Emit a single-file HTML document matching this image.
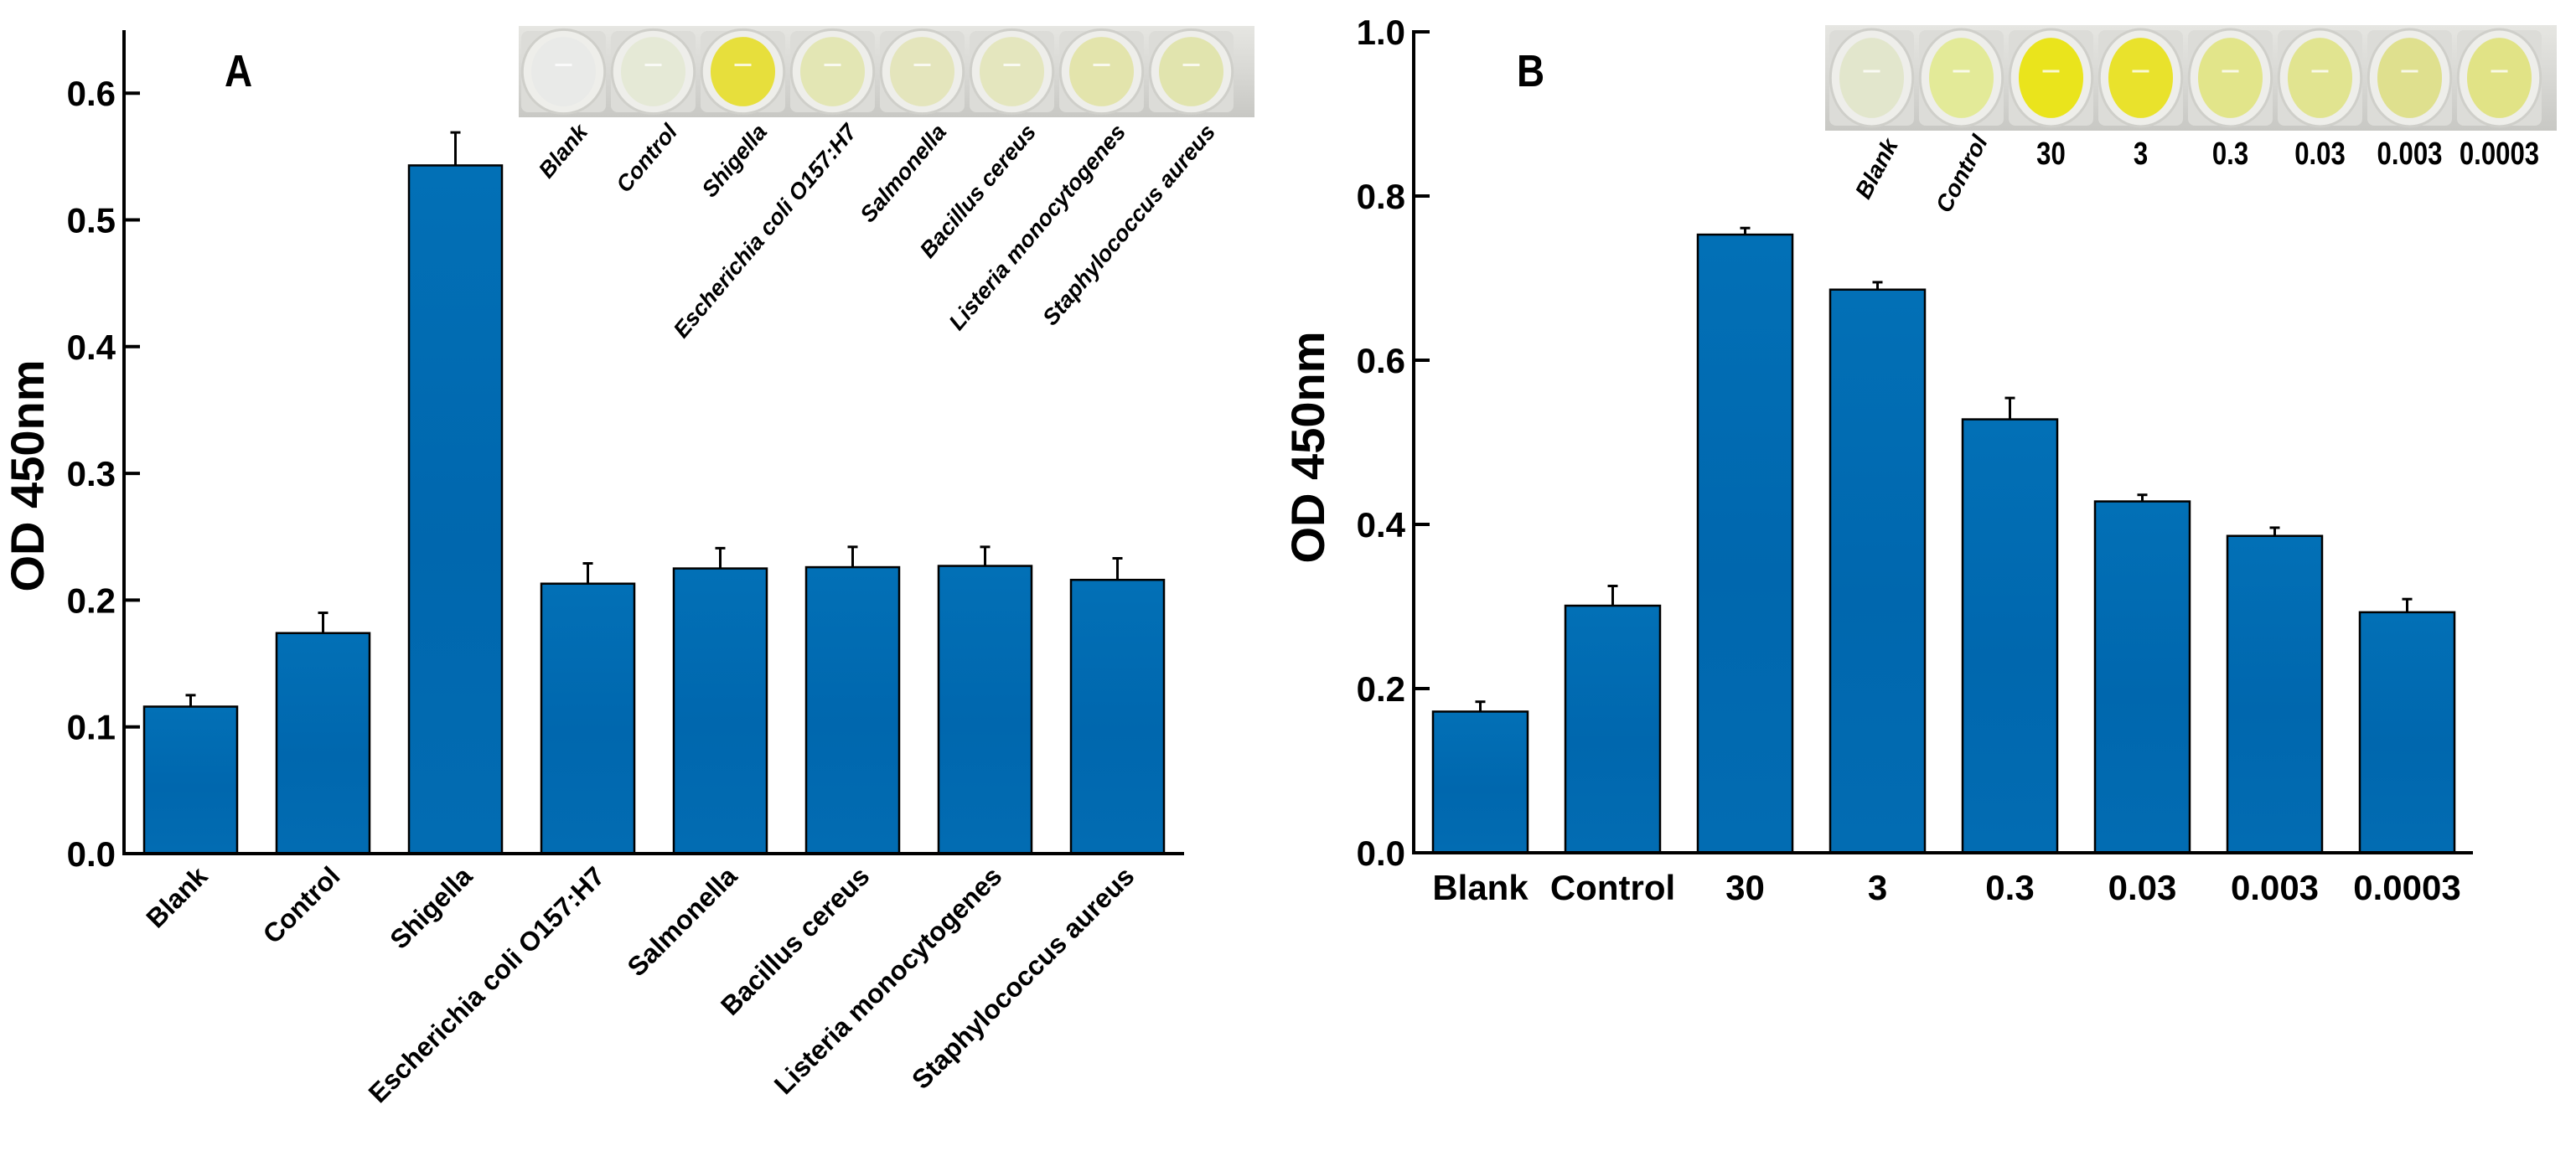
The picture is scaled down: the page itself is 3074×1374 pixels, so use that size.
<!DOCTYPE html>
<html><head><meta charset="utf-8">
<style>
html,body{margin:0;padding:0;background:#fff}
svg{display:block}
text{font-family:"Liberation Sans",Arial,sans-serif;font-weight:bold;fill:#000}
</style></head>
<body>
<svg id="chart" width="3074" height="1374" viewBox="0 0 3074 1374" xmlns="http://www.w3.org/2000/svg">
<defs>
<linearGradient id="barg" x1="0" y1="0" x2="0" y2="1">
<stop offset="0" stop-color="#0270b6"/><stop offset="0.55" stop-color="#0067ae"/><stop offset="1" stop-color="#026cb2"/>
</linearGradient>
<linearGradient id="plateg" x1="0" y1="0" x2="0" y2="1">
<stop offset="0" stop-color="#e6e6e2"/><stop offset="0.5" stop-color="#d8d8d4"/><stop offset="1" stop-color="#c8c8c4"/>
</linearGradient>
</defs>
<g id="panelA"></g>
<g id="panelB"></g>
</svg>
<script>
const catsA = ["Blank","Control","Shigella","Escherichia coli O157:H7","Salmonella","Bacillus cereus","Listeria monocytogenes","Staphylococcus aureus"];
const valsA = [0.116,0.174,0.543,0.213,0.225,0.226,0.227,0.216];
const errA  = [0.009,0.016,0.026,0.016,0.016,0.016,0.015,0.017];
const ticksA = [0.0,0.1,0.2,0.3,0.4,0.5,0.6];
const wellsA = ["#e9eae8","#e5e9d6","#e7df3c","#e3e6b4","#e4e5bc","#e4e6be","#e3e4ac","#e1e4ae"];

const catsB = ["Blank","Control","30","3","0.3","0.03","0.003","0.0003"];
const valsB = [0.172,0.301,0.753,0.686,0.528,0.428,0.386,0.293];
const errB  = [0.012,0.024,0.008,0.009,0.026,0.008,0.010,0.016];
const ticksB = [0.0,0.2,0.4,0.6,0.8,1.0];
const wellsB = ["#e2e6cc","#e3ea98","#eae41c","#e9e22c","#e2e58a","#e1e490","#dfe08e","#e1e386"];

const NS="http://www.w3.org/2000/svg";
function mk(tag,attrs,parent,txt){const e=document.createElementNS(NS,tag);for(const k in attrs)e.setAttribute(k,attrs[k]);if(txt!==undefined)e.textContent=txt;parent.appendChild(e);return e;}

function panel(g,cfg){
  const y=v=>cfg.y0-v*cfg.perUnit;
  const x=i=>cfg.firstLeft+i*cfg.pitch;
  cfg.vals.forEach((v,i)=>{
    const cx=x(i)+cfg.bw/2;
    const eb=mk('line',{x1:cx,x2:cx,y1:y(v),y2:y(v+cfg.err[i]),stroke:'#000','stroke-width':3},g);
    
    
    const cap=mk('line',{x1:cx-6,x2:cx+6,y1:y(v+cfg.err[i]),y2:y(v+cfg.err[i]),stroke:'#000','stroke-width':3},g);
    
    
    const r=mk('rect',{x:x(i),y:y(v),width:cfg.bw,height:cfg.y0-y(v),fill:'url(#barg)',stroke:'#000','stroke-width':2.5},g);
    
    
  });
  const ya=mk('line',{x1:cfg.ax,x2:cfg.ax,y1:cfg.axTop,y2:cfg.y0+2,stroke:'#000','stroke-width':4},g);
  
  
  const xa=mk('line',{x1:cfg.ax-2,x2:cfg.axRight,y1:cfg.y0,y2:cfg.y0,stroke:'#000','stroke-width':4},g);
  
  
  cfg.ticks.forEach(t=>{
    const tl=mk('line',{x1:cfg.ax,x2:cfg.ax+19,y1:y(t),y2:y(t),stroke:'#000','stroke-width':4},g);
    
    
    const tt=mk('text',{x:cfg.ax-10,y:y(t)+15,'text-anchor':'end','font-size':42},g,t.toFixed(1));
    
    
  });
  const yt=mk('text',{x:0,y:0,'text-anchor':'middle','font-size':56,transform:`translate(${cfg.titleX},${cfg.titleY}) rotate(-90)`},g,'OD 450nm');
  
  
  const pl=mk('text',{x:cfg.letterX,y:cfg.letterY,'font-size':54,transform:`scale(0.85,1)`,'transform-origin':`${cfg.letterX} ${cfg.letterY}`},g,cfg.letter);
  
  
  const pg=mk('g',{},g);
  
  
  mk('rect',{x:cfg.plate.x,y:cfg.plate.y,width:cfg.plate.w,height:cfg.plate.h,fill:'url(#plateg)'},pg);
  const wp=cfg.plate.pitch;
  cfg.wells.forEach((c,i)=>{
    const cx=cfg.plate.x+wp*(i+0.5)+cfg.plate.off, cy=cfg.plate.y+cfg.plate.h/2;
    mk('rect',{x:cx-wp/2+3,y:cfg.plate.y+6,width:wp-6,height:cfg.plate.h-12,fill:'#dcdcd8',rx:8},pg);
    mk('ellipse',{cx:cx,cy:cy,rx:wp*0.46,ry:cfg.plate.h*0.46,fill:'#eeeeea',stroke:'#cfcfca','stroke-width':3},pg);
    const w=mk('ellipse',{cx:cx,cy:cy,rx:wp*0.36,ry:cfg.plate.h*0.38,fill:c},pg);
    
    
    mk('line',{x1:cx-10,x2:cx+10,y1:cy-8,y2:cy-8,stroke:'#fff','stroke-width':3,opacity:0.8},pg);
  });
}

const gA=document.getElementById('panelA');
panel(gA,{cats:catsA,vals:valsA,err:errA,ticks:ticksA,wells:wellsA,y0:1019,perUnit:1513,firstLeft:172,pitch:158,bw:111,
  ax:148,axTop:36,axRight:1413,titleX:52,titleY:568,letter:'A',letterX:268,letterY:103,
  plate:{x:619,y:31,w:878,h:109,pitch:107,off:0}});
const gB=document.getElementById('panelB');
panel(gB,{cats:catsB,vals:valsB,err:errB,ticks:ticksB,wells:wellsB,y0:1018,perUnit:980,firstLeft:1710,pitch:158,bw:113,
  ax:1687,axTop:36,axRight:2951,titleX:1580,titleY:534,letter:'B',letterX:1810,letterY:103,
  plate:{x:2178,y:30,w:873,h:126,pitch:107,off:2}});

catsA.forEach((c,i)=>{
  const cx=172+i*158+111/2+22, ty=1048;
  const t=mk('text',{x:0,y:0,'text-anchor':'end','font-size':32,transform:`translate(${cx},${ty}) rotate(-45)`},gA,c);
  
  
});
catsA.forEach((c,i)=>{
  const cx=619+107*(i+0.5)+30, ty=158;
  const t=mk('text',{x:0,y:0,'text-anchor':'end','font-size':27,'font-style':'italic',transform:`translate(${cx},${ty}) rotate(-50)`},gA,c);
  
  
});
catsB.forEach((c,i)=>{
  const cx=1710+i*158+113/2;
  const t=mk('text',{x:cx,y:1074,'text-anchor':'middle','font-size':42},gB,c);
  
  
});
catsB.forEach((c,i)=>{
  const cx=2178+2+107*(i+0.5);
  let t;
  if(i<2){
    t=mk('text',{x:0,y:0,'text-anchor':'end','font-size':28,'font-style':'italic',transform:`translate(${cx+32},${i==0?172:168}) rotate(-62)`},gB,c);
  } else {
    t=mk('text',{x:0,y:0,'text-anchor':'middle','font-size':38,transform:`translate(${cx},196) scale(0.82,1)`},gB,c);
  }
  
  
});
</script>
</body></html>
